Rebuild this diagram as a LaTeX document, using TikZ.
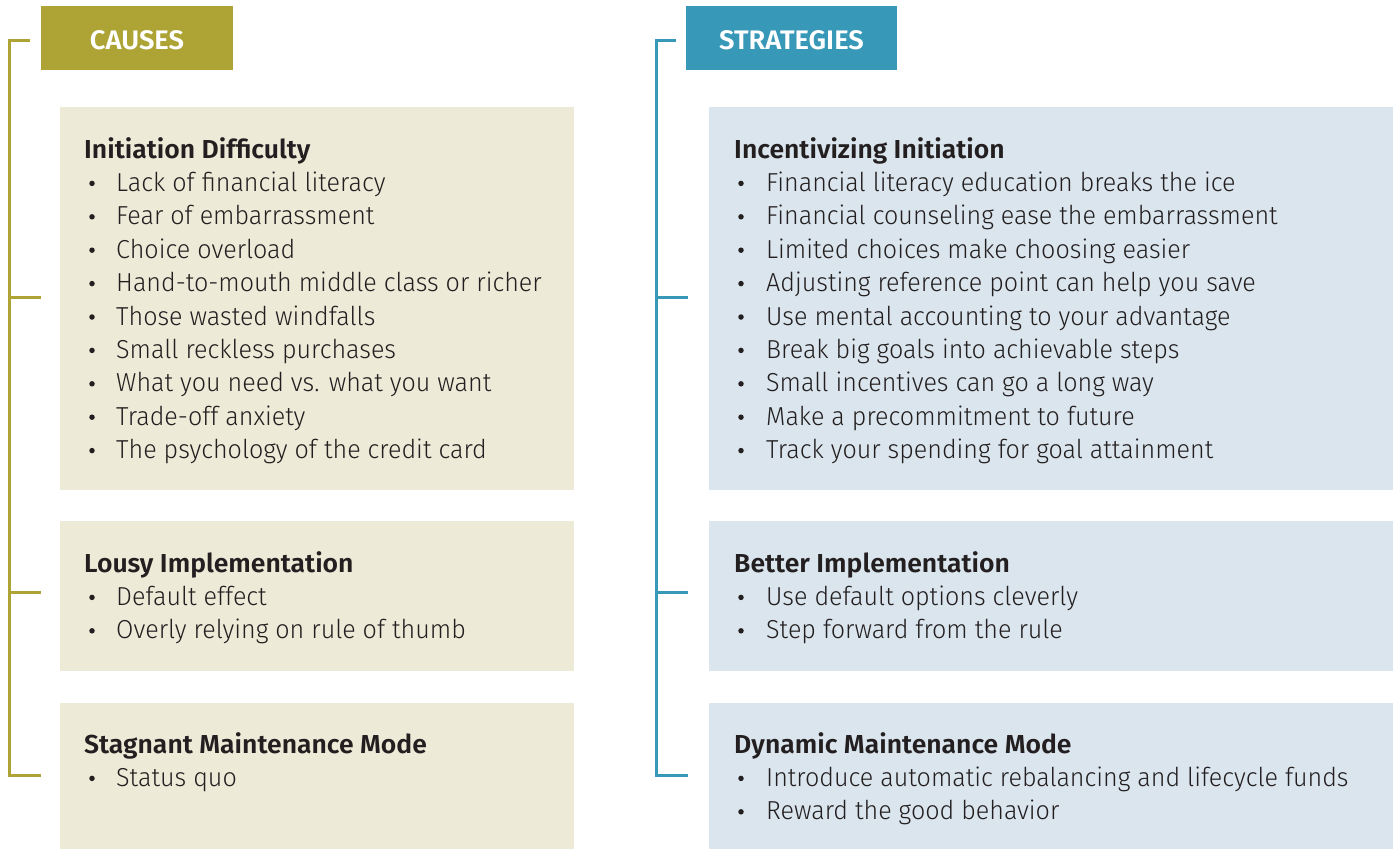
\documentclass[tikz,border=0pt]{standalone}
\usepackage{fontspec}
\setmainfont{Fira Sans Light}[BoldFont={Fira Sans SemiBold},UprightFeatures={FakeStretch=0.965},BoldFeatures={FakeStretch=1.02}]
\definecolor{olive}{RGB}{173,164,53}
\definecolor{teal}{RGB}{55,152,183}
\definecolor{lfill}{RGB}{237,234,215}
\definecolor{rfill}{RGB}{218,229,237}
\definecolor{ink}{RGB}{35,31,32}
\begin{document}
\begin{tikzpicture}[x=1pt,y=-1pt,
  hdr/.style={anchor=center,text=white,font=\fontsize{26.8}{30}\selectfont\bfseries},
  ttl/.style={anchor=base west,text=ink,inner sep=0,font=\fontsize{26}{30}\selectfont\bfseries},
  itm/.style={anchor=base west,text=ink,inner sep=0,font=\fontsize{26}{30}\selectfont},
  dot/.style={circle,fill=ink,inner sep=0,minimum size=5.5pt},
  brk/.style={line width=3pt}]
\useasboundingbox (0,0) rectangle (1397,849);
% headers
\fill[olive] (41,6) rectangle (233,70);
\node[hdr] (causes) at (137,40.5) {CAUSES};
\fill[teal] (686,6) rectangle (897,70);
\node[hdr] (strat) at (791.5,40.5) {STRATEGIES};
% boxes
\fill[lfill] (60,107) rectangle (574,490);
\fill[lfill] (60,521) rectangle (574,671);
\fill[lfill] (60,703) rectangle (574,849);
\fill[rfill] (709,107) rectangle (1393,490);
\fill[rfill] (709,521) rectangle (1393,671);
\fill[rfill] (709,703) rectangle (1393,849);
% brackets
\coordinate (lt) at (30,40);
\coordinate (rt) at (676,40);
\draw[brk,olive] (lt) -| (9,775) -- (41,775);
\draw[brk,olive] (9,297) -- (41,297);
\draw[brk,olive] (9,592) -- (41,592);
\draw[brk,teal] (rt) -| (656,775) -- (688,775);
\draw[brk,teal] (656,297) -- (688,297);
\draw[brk,teal] (656,592) -- (688,592);
% left text
\node[ttl] (l1) at (84,158) {Initiation Difficulty};
\foreach \t [count=\i] in {Lack of financial literacy,Fear of embarrassment,Choice overload,Hand-to-mouth middle class or richer,Those wasted windfalls,Small reckless purchases,What you need vs. what you want,Trade-off anxiety,The psychology of the credit card}{
  \node[itm] (l1t\i) at (116,158+33.4*\i) {\t};
  \node[dot] (l1d\i) at (92,150+33.4*\i) {};
}
\node[ttl] (l2) at (84,572) {Lousy Implementation};
\foreach \t [count=\i] in {Default effect,Overly relying on rule of thumb}{
  \node[itm] (l2t\i) at (116,572+33.4*\i) {\t};
  \node[dot] (l2d\i) at (92,564+33.4*\i) {};
}
\node[ttl] (l3) at (84,753) {Stagnant Maintenance Mode};
\foreach \t [count=\i] in {Status quo}{
  \node[itm] (l3t\i) at (116,753+33.4*\i) {\t};
  \node[dot] (l3d\i) at (92,745+33.4*\i) {};
}
% right text
\node[ttl] (r1) at (734,158) {Incentivizing Initiation};
\foreach \t [count=\i] in {Financial literacy education breaks the ice,Financial counseling ease the embarrassment,Limited choices make choosing easier,Adjusting reference point can help you save,Use mental accounting to your advantage,Break big goals into achievable steps,Small incentives can go a long way,Make a precommitment to future,Track your spending for goal attainment}{
  \node[itm] (r1t\i) at (766,158+33.4*\i) {\t};
  \node[dot] (r1d\i) at (741,150+33.4*\i) {};
}
\node[ttl] (r2) at (734,572) {Better Implementation};
\foreach \t [count=\i] in {Use default options cleverly,Step forward from the rule}{
  \node[itm] (r2t\i) at (766,572+33.4*\i) {\t};
  \node[dot] (r2d\i) at (741,564+33.4*\i) {};
}
\node[ttl] (r3) at (734,753) {Dynamic Maintenance Mode};
\foreach \t [count=\i] in {Introduce automatic rebalancing and lifecycle funds,Reward the good behavior}{
  \node[itm] (r3t\i) at (766,753+33.4*\i) {\t};
  \node[dot] (r3d\i) at (741,745+33.4*\i) {};
}
\end{tikzpicture}
\end{document}
